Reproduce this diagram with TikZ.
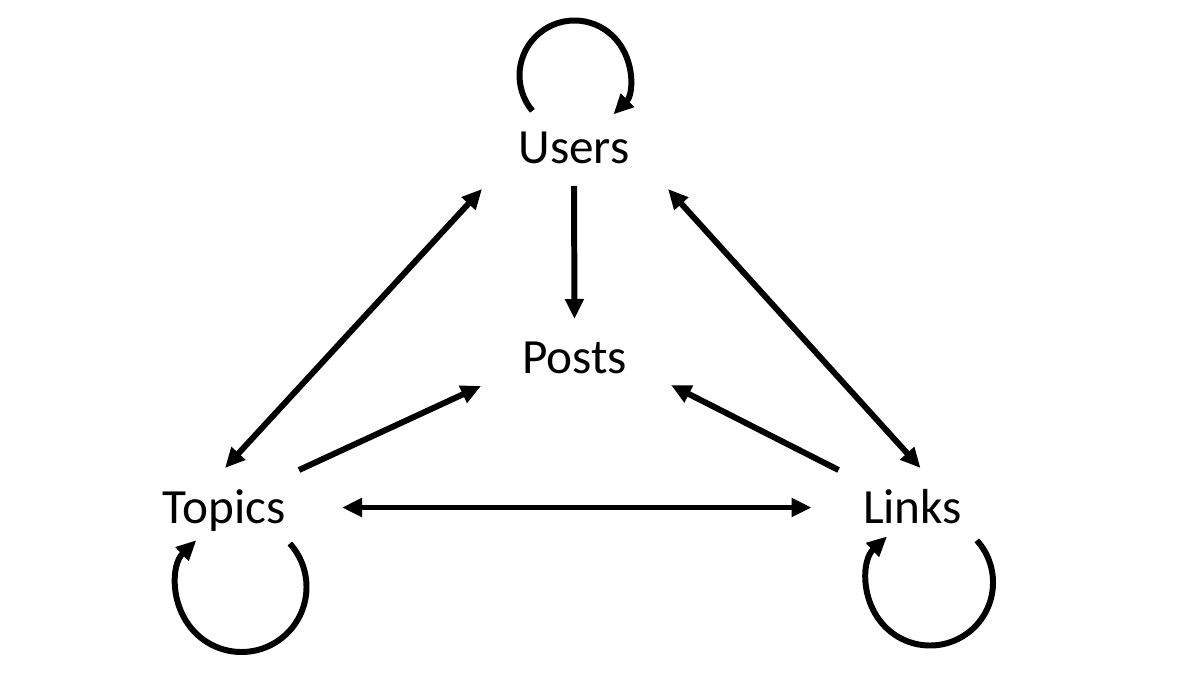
\documentclass[tikz,border=0pt]{standalone}
\usepackage{fontspec}
\setmainfont{Carlito}
\usetikzlibrary{arrows.meta}

\begin{document}
\begin{tikzpicture}[
        term/.style={inner sep=0pt, anchor=base, font=\fontsize{28}{33}\selectfont},
        arrow/.style={-{Triangle[length=0.4cm, width=0.36cm]}, line width=3.4pt},
        biarrow/.style={{Triangle[length=0.4cm, width=0.36cm]}-{Triangle[length=0.4cm, width=0.36cm]}, line width=3.4pt}
    ]
    \useasboundingbox (0,0) rectangle (24,13.5);

    \node[term] (users) at (11.48,10.24) {Users};
    \node[term] (posts) at (11.49,6.04) {Posts};
    \node[term] (topics) at (4.48,3.04) {Topics};
    \node[term] (links) at (18.25,3.04) {Links};

    % edges between the entities
    \draw[arrow] ([shift={(0,-0.46)}]users.base) -- ([shift={(0,1.08)}]posts.base);
    \draw[biarrow] ([shift={(-1.84,-0.52)}]users.base) -- ([shift={(0.02,1.1)}]topics.base);
    \draw[biarrow] ([shift={(1.88,-0.52)}]users.base) -- ([shift={(0.16,1.1)}]links.base);
    \draw[arrow] ([shift={(1.5,1.06)}]topics.base) -- ([shift={(-1.87,-0.26)}]posts.base);
    \draw[arrow] ([shift={(-1.48,1.06)}]links.base) -- ([shift={(1.93,-0.24)}]posts.base);
    \draw[biarrow] ([shift={(2.36,0.31)}]topics.base) -- ([shift={(-2.02,0.31)}]links.base);

    % self loops
    \draw[arrow] ([shift={(0.01,1.75)}]users.base) ++(220:1.1) arc[start angle=220, end angle=-45, radius=1.1];
    \draw[arrow] ([shift={(0.35,-1.28)}]topics.base) ++(42:1.3) arc[start angle=42, end angle=-226, radius=1.3];
    \draw[arrow] ([shift={(0.35,-1.19)}]links.base) ++(42:1.26) arc[start angle=42, end angle=-227, radius=1.26];
\end{tikzpicture}
\end{document}
